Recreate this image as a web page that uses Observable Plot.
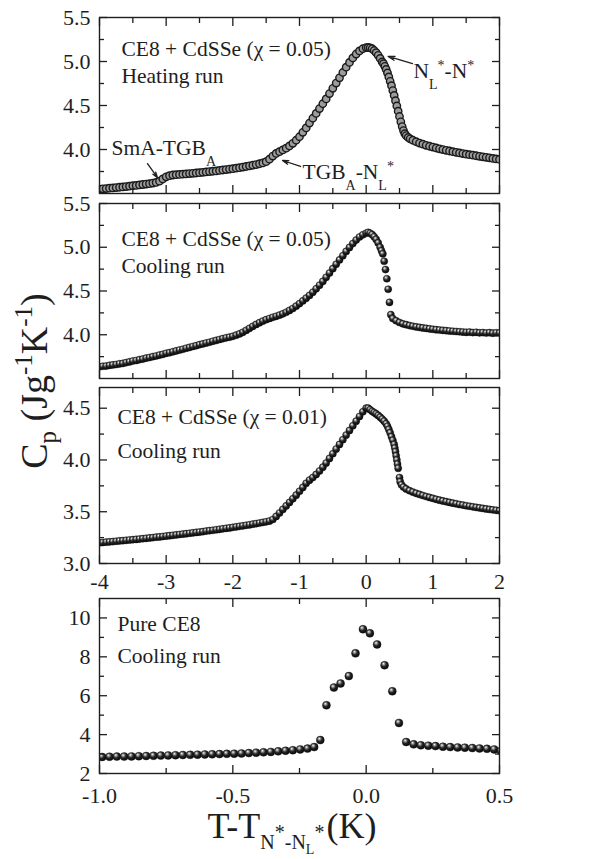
<!DOCTYPE html>
<html>
<head>
<meta charset="utf-8">
<script src="https://cdn.jsdelivr.net/npm/d3@7"></script>
<script src="https://cdn.jsdelivr.net/npm/@observablehq/plot@0.6"></script>
<style>
html, body { margin: 0; padding: 0; background: #fff; }
#page { position: relative; width: 606px; height: 859px; overflow: hidden; background: #fff; }
#page, #page svg, #page text, #page tspan {
  font-family: "Liberation Serif", "Tinos", "DejaVu Serif", "Times New Roman", Times, serif !important;
}
.panel { position: absolute; left: 0; }
.panel svg { overflow: visible; display: block; }
#titles { position: absolute; left: 0; top: 0; }
</style>
</head>
<body>
<svg width="0" height="0" style="position:absolute">
  <defs>
    <radialGradient id="ball" cx="0.42" cy="0.40" r="0.62" fx="0.36" fy="0.30">
      <stop offset="0" stop-color="#ffffff"/>
      <stop offset="0.20" stop-color="#a0a0a0"/>
      <stop offset="0.52" stop-color="#262626"/>
      <stop offset="1" stop-color="#050505"/>
    </radialGradient>
  </defs>
</svg>
<div id="page"></div>
<script>
// ---------------- data ----------------
// Panel 1: CE8 + CdSSe (x = 0.05), heating run
const p1T = [-4.00,-3.95,-3.90,-3.85,-3.80,-3.75,-3.70,-3.65,-3.60,-3.55,-3.50,-3.45,-3.40,-3.35,-3.30,-3.25,-3.20,-3.15,
  -3.10,-3.05,-3.00,-2.95,-2.90,-2.85,
  -2.80,-2.75,-2.70,-2.65,-2.60,-2.55,-2.50,-2.45,-2.40,-2.35,-2.30,-2.25,-2.20,-2.15,-2.10,-2.05,-2.00,-1.95,-1.90,-1.85,-1.80,-1.75,-1.70,-1.65,-1.60,-1.55,
  -1.50,-1.45,-1.40,-1.35,-1.30,-1.25,-1.20,-1.15,-1.10,-1.05,-1.00,-0.95,-0.90,-0.85,-0.80,-0.75,-0.70,-0.65,-0.60,-0.55,-0.50,-0.45,-0.40,-0.35,-0.30,-0.25,-0.20,-0.15,-0.10,-0.05,
  0.00,0.03,0.06,0.09,0.12,0.15,0.18,0.21,0.24,
  0.26,0.28,0.30,0.32,0.34,0.36,0.38,0.40,0.42,0.44,0.46,0.48,0.50,0.52,0.54,0.56,0.58,0.60,
  0.63,0.66,0.70,
  0.75,0.80,0.85,0.90,0.95,1.00,1.05,1.10,1.15,1.20,1.25,1.30,1.35,1.40,1.45,1.50,1.55,1.60,1.65,1.70,1.75,1.80,1.85,1.90,1.95,2.00];
const p1Cp = [3.550,3.553,3.556,3.560,3.563,3.567,3.571,3.575,3.579,3.583,3.588,3.592,3.597,3.602,3.607,3.612,3.618,3.626,
  3.640,3.665,3.690,3.703,3.710,3.714,
  3.717,3.720,3.723,3.726,3.729,3.733,3.737,3.741,3.745,3.749,3.753,3.757,3.762,3.767,3.772,3.777,3.782,3.788,3.794,3.800,3.807,3.814,3.821,3.829,3.838,3.848,
  3.862,3.890,3.925,3.955,3.975,3.995,4.015,4.040,4.070,4.105,4.145,4.195,4.245,4.300,4.355,4.410,4.465,4.520,4.575,4.635,4.695,4.755,4.815,4.875,4.935,4.990,5.040,5.085,5.120,5.145,
  5.158,5.160,5.155,5.145,5.125,5.100,5.070,5.035,4.995,
  4.975,4.945,4.910,4.870,4.825,4.775,4.725,4.670,4.615,4.555,4.495,4.435,4.375,4.315,4.260,4.215,4.180,4.158,
  4.137,4.121,4.105,
  4.088,4.073,4.060,4.048,4.037,4.027,4.017,4.008,3.999,3.991,3.983,3.975,3.968,3.961,3.954,3.947,3.941,3.935,3.929,3.923,3.917,3.911,3.905,3.899,3.893,3.887];

// Panel 2: CE8 + CdSSe (x = 0.05), cooling run
const p2T = [-4.00,-3.95,-3.90,-3.85,-3.80,-3.75,-3.70,-3.65,-3.60,-3.55,-3.50,-3.45,-3.40,-3.35,-3.30,-3.25,-3.20,-3.15,-3.10,-3.05,
  -3.00,-2.95,-2.90,-2.85,-2.80,-2.75,-2.70,-2.65,-2.60,-2.55,-2.50,-2.45,-2.40,-2.35,-2.30,-2.25,-2.20,-2.15,-2.10,-2.05,
  -2.00,-1.95,-1.90,-1.85,-1.80,-1.75,-1.70,-1.65,-1.60,-1.55,-1.50,-1.45,-1.40,-1.35,-1.30,-1.25,-1.20,-1.15,-1.10,-1.05,
  -1.00,-0.95,-0.90,-0.85,-0.80,-0.75,-0.70,-0.65,-0.60,-0.55,-0.50,-0.45,-0.40,-0.35,-0.30,-0.25,-0.20,-0.15,-0.10,-0.05,
  0.00,0.03,0.06,0.09,0.12,0.15,0.18,0.21,
  0.23,0.25,0.27,0.29,0.31,0.33,0.35,0.37,
  0.40,
  0.45,0.50,0.55,0.60,0.65,0.70,0.75,0.80,0.85,0.90,0.95,1.00,1.05,1.10,1.15,1.20,1.25,1.30,1.35,1.40,1.45,1.50,1.55,1.60,1.65,1.70,1.75,1.80,1.85,1.90,1.95,2.00];
const p2Cp = [3.635,3.640,3.642,3.650,3.655,3.660,3.668,3.672,3.682,3.690,3.700,3.706,3.716,3.722,3.733,3.740,3.750,3.757,3.768,3.776,
  3.788,3.795,3.806,3.815,3.826,3.834,3.846,3.855,3.866,3.875,3.887,3.895,3.906,3.914,3.926,3.935,3.946,3.956,3.965,3.972,
  3.982,3.995,4.010,4.028,4.050,4.073,4.096,4.118,4.138,4.156,4.172,4.186,4.199,4.211,4.224,4.239,4.257,4.278,4.300,4.327,
  4.356,4.387,4.418,4.450,4.486,4.525,4.566,4.610,4.656,4.705,4.755,4.805,4.855,4.903,4.952,4.998,5.042,5.082,5.117,5.142,
  5.160,5.170,5.160,5.145,5.120,5.090,5.050,5.000,
  4.960,4.925,4.840,4.745,4.640,4.520,4.370,4.230,
  4.185,
  4.160,4.140,4.125,4.115,4.105,4.097,4.090,4.084,4.078,4.073,4.068,4.063,4.058,4.054,4.050,4.047,4.043,4.040,4.037,4.034,4.031,4.028,4.030,4.025,4.028,4.022,4.025,4.020,4.024,4.018,4.022,4.020];

// Panel 3: CE8 + CdSSe (x = 0.01), cooling run
const p3T = [-4.00,-3.95,-3.90,-3.85,-3.80,-3.75,-3.70,-3.65,-3.60,-3.55,-3.50,-3.45,-3.40,-3.35,-3.30,-3.25,-3.20,-3.15,-3.10,-3.05,
  -3.00,-2.95,-2.90,-2.85,-2.80,-2.75,-2.70,-2.65,-2.60,-2.55,-2.50,-2.45,-2.40,-2.35,-2.30,-2.25,-2.20,-2.15,-2.10,-2.05,
  -2.00,-1.95,-1.90,-1.85,-1.80,-1.75,-1.70,-1.65,-1.60,-1.55,-1.50,-1.45,-1.40,-1.35,-1.30,-1.25,-1.20,-1.15,-1.10,-1.05,
  -1.00,-0.95,-0.90,-0.85,-0.80,-0.75,-0.70,-0.65,-0.60,-0.55,-0.50,-0.45,-0.40,-0.35,-0.30,-0.25,-0.20,-0.15,-0.10,-0.05,
  0.00,0.03,0.06,0.09,0.12,0.15,0.18,0.21,0.24,0.27,0.30,
  0.32,0.34,0.36,0.38,0.40,0.42,
  0.43,0.44,0.45,0.46,0.47,0.48,
  0.50,0.51,0.53,0.56,0.60,
  0.65,0.70,0.75,0.80,0.85,0.90,0.95,1.00,1.05,1.10,1.15,1.20,1.25,1.30,1.35,1.40,1.45,1.50,1.55,1.60,1.65,1.70,1.75,1.80,1.85,1.90,1.95,2.00];
const p3Cp = [3.200,3.203,3.206,3.209,3.212,3.215,3.218,3.221,3.224,3.227,3.230,3.233,3.236,3.240,3.243,3.247,3.250,3.254,3.257,3.261,
  3.265,3.269,3.272,3.276,3.280,3.284,3.288,3.292,3.296,3.300,3.304,3.308,3.313,3.317,3.321,3.326,3.330,3.335,3.340,3.344,
  3.349,3.354,3.359,3.364,3.369,3.374,3.380,3.385,3.391,3.397,3.403,3.410,3.425,3.455,3.488,3.522,3.556,3.590,3.625,3.660,
  3.697,3.735,3.775,3.805,3.830,3.860,3.893,3.930,3.970,4.015,4.060,4.105,4.150,4.195,4.240,4.285,4.330,4.375,4.420,4.465,
  4.500,4.500,4.485,4.470,4.458,4.445,4.430,4.413,4.395,4.375,4.350,
  4.325,4.295,4.262,4.225,4.190,4.150,
  4.115,4.080,4.040,4.000,3.960,3.920,
  3.830,3.790,3.760,3.738,3.720,
  3.703,3.690,3.678,3.667,3.657,3.647,3.638,3.629,3.620,3.612,3.604,3.597,3.590,3.583,3.577,3.570,3.564,3.558,3.553,3.547,3.542,3.537,3.532,3.527,3.522,3.518,3.514,3.510];

// Panel 4: pure CE8, cooling run
const p4T = [-0.990,-0.9625,-0.935,-0.9075,-0.880,-0.8525,-0.825,-0.7975,-0.770,-0.7425,-0.715,-0.6875,-0.660,-0.6325,-0.605,
  -0.5775,-0.550,-0.5225,-0.495,-0.4675,-0.440,-0.4125,-0.385,-0.3575,-0.330,-0.3025,-0.275,-0.2475,-0.220,-0.195,
  -0.172,-0.149,-0.121,-0.096,-0.065,-0.040,-0.012,0.014,0.041,0.069,0.098,0.123,0.150,
  0.178,0.205,0.233,0.260,0.288,0.315,0.343,0.370,0.398,0.425,0.453,0.480,0.505];
const p4Cp = [2.85,2.86,2.87,2.87,2.88,2.89,2.90,2.91,2.92,2.93,2.94,2.95,2.96,2.97,2.98,
  2.99,3.00,3.01,3.02,3.03,3.05,3.07,3.09,3.11,3.14,3.17,3.20,3.24,3.28,3.36,
  3.72,5.51,6.42,6.63,7.01,8.18,9.42,9.21,8.64,7.57,6.23,4.60,3.62,
  3.50,3.45,3.43,3.41,3.38,3.36,3.34,3.33,3.31,3.29,3.27,3.24,3.16];

// ticks
const xMajorWide = [-4, -3, -2, -1, 0, 1, 2];
const xMinorWide = [-3.5, -2.5, -1.5, -0.5, 0.5, 1.5];
const yMajorHigh = [4.0, 4.5, 5.0, 5.5];
const yMinorHigh = [3.75, 4.25, 4.75, 5.25];
const yMajorLow = [3.0, 3.5, 4.0, 4.5];
const yMinorLow = [3.25, 3.75, 4.25];
const xMajorPure = [-1.0, -0.5, 0.0, 0.5];
const xMinorPure = [-0.75, -0.25, 0.25];
const yMajorPure = [2, 4, 6, 8, 10];
const yMinorPure = [3, 5, 7, 9];

// texts
const p1Lines = ["CE8 + CdSSe (\u03c7 = 0.05)", "Heating run"];
const p2Lines = ["CE8 + CdSSe (\u03c7 = 0.05)", "Cooling run"];
const p3Lines = ["CE8 + CdSSe (\u03c7 = 0.01)", "Cooling run"];
const p4Lines = ["Pure CE8", "Cooling run"];
const p1Notes = [
  {label: "SmA-TGB_{A}", t: -3.82, cp: 3.932},
  {label: "TGB_{A}-N_{L}^{*}", t: -0.955, cp: 3.67},
  {label: "N_{L}^{*}-N^{*}", t: 0.71, cp: 4.818}
];
const p1Arrows = [
  {t1: -3.28, cp1: 3.84, t2: -3.13, cp2: 3.68},
  {t1: -0.985, cp1: 3.807, t2: -1.255, cp2: 3.875},
  {t1: 0.695, cp1: 4.977, t2: 0.33, cp2: 5.057}
];

// ---------------- drawing ----------------
const INK = "#1e1e1e";
const FONT = "Liberation Serif";
const PAD_T = 30, PAD_B = 60;
const page = document.getElementById("page");
const blank = () => "";

function richText(el, str, o) {
  while (el.firstChild) el.removeChild(el.firstChild);
  const re = /([_^])\{([^}]*)\}|([^_^]+)/g;
  let m, cur = 0;
  while ((m = re.exec(str))) {
    const ts = document.createElementNS("http://www.w3.org/2000/svg", "tspan");
    let shift = 0, size = o.base;
    if (m[1]) { shift = m[1] === "_" ? o.sub : o.sup; size = o.small; ts.textContent = m[2]; }
    else ts.textContent = m[3];
    ts.setAttribute("font-size", size);
    if (shift !== cur) ts.setAttribute("dy", shift - cur);
    cur = shift;
    el.appendChild(ts);
  }
}

function panel(cfg) {
  const H = cfg.bottom - cfg.top;
  const rows = cfg.T.map((t, i) => ({t, cp: cfg.Cp[i]}));
  const ax = {label: null, strokeWidth: 1.3};
  const marks = [
    Plot.dot(rows, {x: "t", y: "cp", r: cfg.r, fill: cfg.fill, stroke: cfg.stroke, strokeWidth: cfg.sw, clip: true}),
    Plot.frame({stroke: INK, strokeWidth: 1.4}),
    Plot.axisX(cfg.xMajor, {...ax, anchor: "bottom", tickSize: -8, tickPadding: cfg.xPad, tickFormat: cfg.xFmt || blank, fontSize: 22}),
    Plot.axisX(cfg.xMinor, {...ax, anchor: "bottom", tickSize: -5, tickFormat: blank}),
    Plot.axisX(cfg.xMajor, {...ax, anchor: "top", tickSize: -8, tickFormat: blank}),
    Plot.axisX(cfg.xMinor, {...ax, anchor: "top", tickSize: -5, tickFormat: blank}),
    Plot.axisY(cfg.yMajor, {...ax, anchor: "left", tickSize: -8, tickPadding: 17, tickFormat: cfg.yFmt, fontSize: 22}),
    Plot.axisY(cfg.yMinor, {...ax, anchor: "left", tickSize: -5, tickFormat: blank}),
    Plot.axisY(cfg.yMajor, {...ax, anchor: "right", tickSize: -8, tickFormat: blank}),
    Plot.axisY(cfg.yMinor, {...ax, anchor: "right", tickSize: -5, tickFormat: blank}),
    Plot.text([cfg.lines[0]], {text: d => d, frameAnchor: "top-left", textAnchor: "start", lineAnchor: "top", dx: cfg.tdx, dy: cfg.tdy[0], fontSize: 21.5, fill: INK}),
    Plot.text([cfg.lines[1]], {text: d => d, frameAnchor: "top-left", textAnchor: "start", lineAnchor: "top", dx: cfg.tdx, dy: cfg.tdy[1], fontSize: 21.5, fill: INK})
  ];
  if (cfg.extra) marks.push(...cfg.extra);
  const chart = Plot.plot({
    width: 606,
    height: H + PAD_T + PAD_B,
    marginLeft: 99, marginRight: 107, marginTop: PAD_T, marginBottom: PAD_B,
    x: {domain: cfg.xDomain},
    y: {domain: cfg.yDomain},
    style: "background: transparent; overflow: visible; font-family: 'Liberation Serif', serif; font-size: 22px; color: " + INK + ";",
    marks
  });
  chart.setAttribute("font-family", FONT);
  chart.querySelectorAll("text").forEach(el => {
    el.setAttribute("font-family", FONT);
    const s = el.textContent;
    if (s.includes("_{") || s.includes("^{")) richText(el, s, {base: 21.5, small: 14, sub: 11, sup: -8});
  });
  const div = document.createElement("div");
  div.className = "panel";
  div.style.top = (cfg.top - PAD_T) + "px";
  div.appendChild(chart);
  page.appendChild(div);
}

const fmt1 = d => d.toFixed(1);

panel({
  top: 17, bottom: 193, T: p1T, Cp: p1Cp, xDomain: [-4, 2], yDomain: [3.5, 5.5],
  xMajor: xMajorWide, xMinor: xMinorWide, yMajor: yMajorHigh, yMinor: yMinorHigh,
  yFmt: fmt1, xFmt: null, xPad: 18,
  r: 3.7, fill: "#9c9c9c", stroke: "#1a1a1a", sw: 1.4,
  lines: p1Lines, tdx: 22, tdy: [23, 50],
  extra: [
    Plot.arrow(p1Arrows, {x1: "t1", y1: "cp1", x2: "t2", y2: "cp2", stroke: INK, strokeWidth: 1.3, headLength: 8, headAngle: 35}),
    Plot.text(p1Notes, {x: "t", y: "cp", text: "label", textAnchor: "start", lineAnchor: "bottom", fontSize: 21.5, fill: INK})
  ]
});
panel({
  top: 203, bottom: 378, T: p2T, Cp: p2Cp, xDomain: [-4, 2], yDomain: [3.5, 5.5],
  xMajor: xMajorWide, xMinor: xMinorWide, yMajor: yMajorHigh, yMinor: yMinorHigh,
  yFmt: fmt1, xFmt: null, xPad: 18,
  r: 3.6, fill: "url(#ball)", stroke: "#111", sw: 0.4,
  lines: p2Lines, tdx: 22, tdy: [27, 54]
});
panel({
  top: 387, bottom: 563, T: p3T, Cp: p3Cp, xDomain: [-4, 2], yDomain: [3.0, 4.7],
  xMajor: xMajorWide, xMinor: xMinorWide, yMajor: yMajorLow, yMinor: yMinorLow,
  yFmt: fmt1, xFmt: d => String(d), xPad: 18,
  r: 3.6, fill: "url(#ball)", stroke: "#111", sw: 0.4,
  lines: p3Lines, tdx: 18, tdy: [21, 55]
});
panel({
  top: 598, bottom: 773, T: p4T, Cp: p4Cp, xDomain: [-1.0, 0.5], yDomain: [2, 11],
  xMajor: xMajorPure, xMinor: xMinorPure, yMajor: yMajorPure, yMinor: yMinorPure,
  yFmt: d => String(d), xFmt: fmt1, xPad: 22,
  r: 4, fill: "url(#ball)", stroke: "#111", sw: 0.4,
  lines: p4Lines, tdx: 18, tdy: [17, 49]
});

// axis titles
const titles = d3.create("svg").attr("id", "titles").attr("width", 606).attr("height", 859)
  .attr("font-family", FONT).style("fill", INK);
function segText(g, segs) {
  let cur = 0;
  for (const s of segs) {
    const ts = g.append("tspan").attr("font-size", s.s).text(s.t);
    if (s.y !== cur) ts.attr("dy", s.y - cur);
    if (s.dx) ts.attr("dx", s.dx);
    cur = s.y;
  }
}
const yTitle = titles.append("text").attr("transform", "translate(47,381) rotate(-90)").attr("text-anchor", "middle");
segText(yTitle, [
  {t: "C", s: 38, y: 0}, {t: "p", s: 25, y: 9}, {t: " (Jg", s: 38, y: 0},
  {t: "-1", s: 25, y: -15}, {t: "K", s: 38, y: 0}, {t: "-1", s: 25, y: -15}, {t: ")", s: 38, y: 0}
]);
const xTitle = titles.append("text").attr("x", 292).attr("y", 838).attr("text-anchor", "middle");
segText(xTitle, [
  {t: "T-T", s: 36, y: 0}, {t: "N", s: 20, y: 11}, {t: "*", s: 20, y: 1}, {t: "-", s: 20, y: 11},
  {t: "N", s: 20, y: 11}, {t: "L", s: 14, y: 16}, {t: "*", s: 20, y: 1}, {t: "(K)", s: 36, y: 0, dx: 2}
]);
page.appendChild(titles.node());
</script>
</body>
</html>
